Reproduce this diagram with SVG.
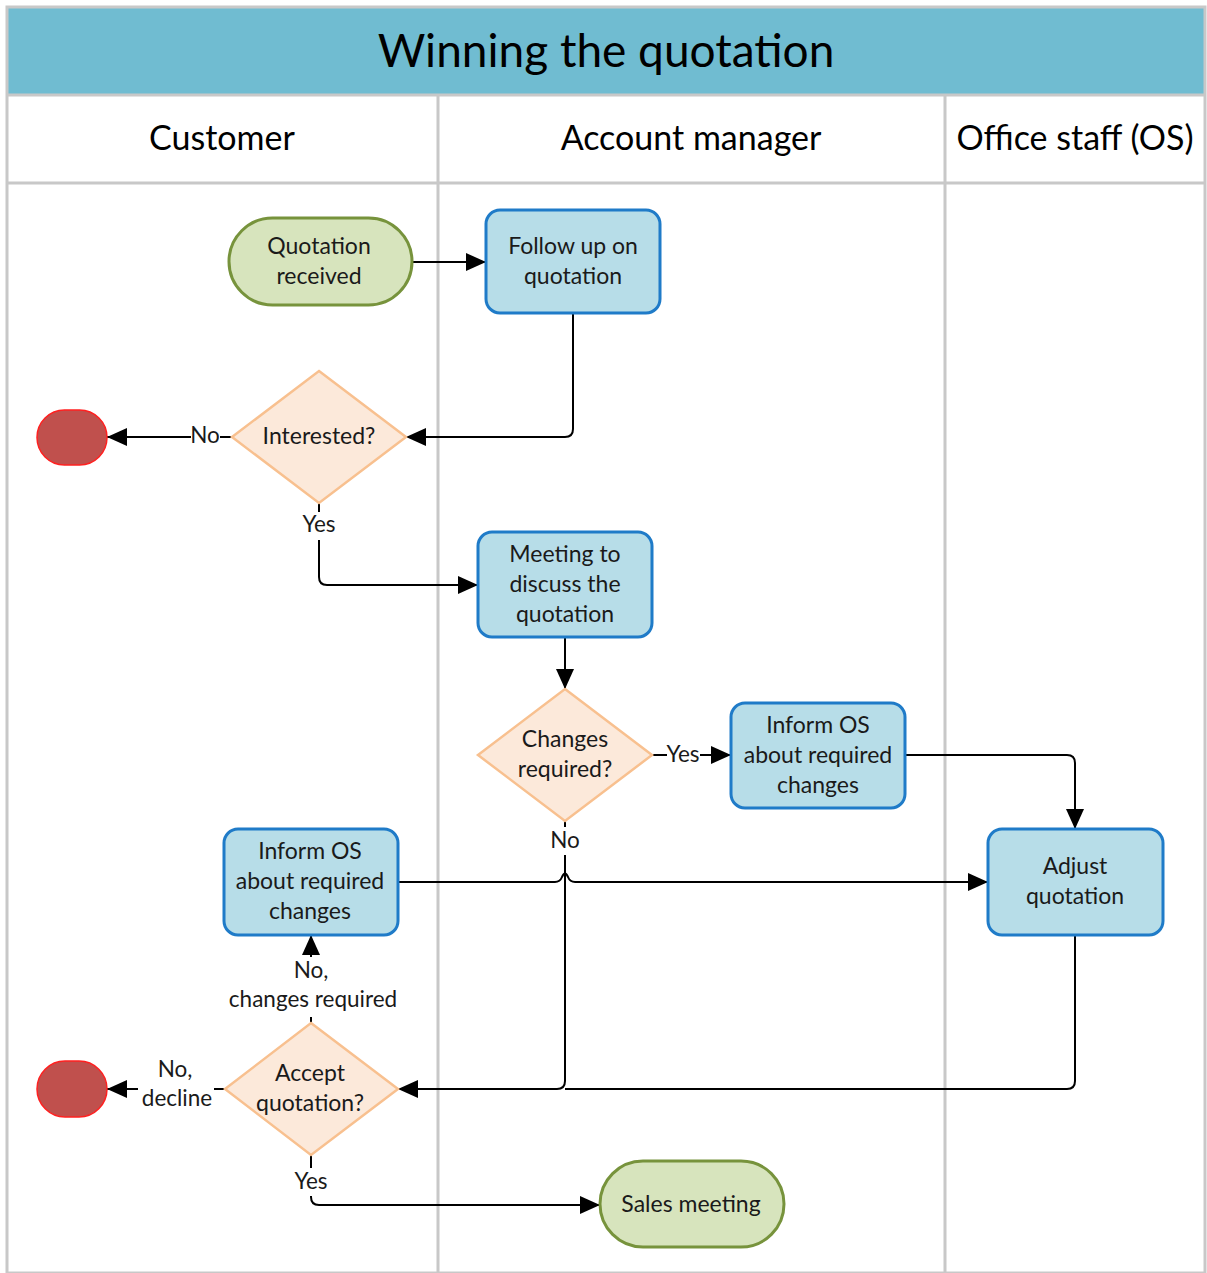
<svg xmlns="http://www.w3.org/2000/svg" width="1207" height="1273" viewBox="0 0 1207 1273">
  <style>
    text { font-family: Lato, "Open Sans", "Liberation Sans", sans-serif; fill: #1a1a1a; text-anchor: middle; }
    .title { font-size: 46px; fill: #000; }
    .lane { font-size: 34px; fill: #000; }
    .node { font-size: 23px; }
    .lbl { font-size: 22.5px; }
    .grid { stroke: #c8c8c8; stroke-width: 3; fill: none; }
    .term { fill: #D7E4BD; stroke: #77933C; stroke-width: 3; }
    .proc { fill: #B7DDE8; stroke: #1F7BC8; stroke-width: 3; }
    .dec { fill: #FCE9DA; stroke: #F8C08F; stroke-width: 2.5; }
    .end { fill: #C0504D; stroke: #FF2020; stroke-width: 1.5; }
    .wire { stroke: #000; stroke-width: 2; fill: none; }
  </style>
  <defs>
    <marker id="arrow" viewBox="0 0 20 18" refX="20" refY="9" markerWidth="20" markerHeight="18" markerUnits="userSpaceOnUse" orient="auto">
      <path d="M0,0 L20,9 L0,18 Z" fill="#000"/>
    </marker>
  </defs>

  <!-- swimlane frame -->
  <g id="frame">
    <rect x="7" y="7" width="1198" height="88" fill="#70BCD1"/>
    <rect x="7" y="7" width="1198" height="1266" class="grid"/>
    <line x1="7" y1="95" x2="1205" y2="95" class="grid"/>
    <line x1="7" y1="183" x2="1205" y2="183" class="grid"/>
    <line x1="438" y1="95" x2="438" y2="1273" class="grid"/>
    <line x1="945" y1="95" x2="945" y2="1273" class="grid"/>
    <text class="title" x="606" y="67">Winning the quotation</text>
    <text class="lane" x="222" y="150">Customer</text>
    <text class="lane" x="691" y="150">Account manager</text>
    <text class="lane" x="1075" y="150">Office staff (OS)</text>
  </g>

  <!-- connectors -->
  <g id="connectors">
    <path class="wire" d="M412,262 H486" marker-end="url(#arrow)"/>
    <path class="wire" d="M573,313 V429 Q573,437 565,437 H406" marker-end="url(#arrow)"/>
    <path class="wire" d="M232,437 H107" marker-end="url(#arrow)"/>
    <path class="wire" d="M319,503 V577 Q319,585 327,585 H478" marker-end="url(#arrow)"/>
    <path class="wire" d="M565,637 V689" marker-end="url(#arrow)"/>
    <path class="wire" d="M652,755 H731" marker-end="url(#arrow)"/>
    <path class="wire" d="M905,755 H1067 Q1075,755 1075,763 V829" marker-end="url(#arrow)"/>
    <path class="wire" d="M398,882 H555 Q560,882 562,877 Q565,870 568,877 Q570,882 575,882 H988" marker-end="url(#arrow)"/>
    <path class="wire" d="M565,821 V1081 Q565,1089 557,1089 H398" marker-end="url(#arrow)"/>
    <path class="wire" d="M1075,935 V1081 Q1075,1089 1067,1089 H565"/>
    <path class="wire" d="M311,1023 V935" marker-end="url(#arrow)"/>
    <path class="wire" d="M225,1089 H107" marker-end="url(#arrow)"/>
    <path class="wire" d="M311,1155 V1197 Q311,1205 319,1205 H600" marker-end="url(#arrow)"/>

    <!-- connector labels -->
    <rect x="191" y="424" width="29" height="24" fill="#fff"/>
    <text class="lbl" x="205" y="443">No</text>
    <rect x="298" y="512" width="42" height="28" fill="#fff"/>
    <text class="lbl" x="319" y="532">Yes</text>
    <rect x="667" y="742" width="33" height="26" fill="#fff"/>
    <text class="lbl" x="683" y="762">Yes</text>
    <rect x="547" y="827" width="36" height="28" fill="#fff"/>
    <text class="lbl" x="565" y="848">No</text>
    <rect x="226" y="957" width="176" height="60" fill="#fff"/>
    <text class="lbl" x="311" y="978">No,</text>
    <text class="lbl" x="313" y="1007">changes required</text>
    <rect x="138" y="1056" width="76" height="58" fill="#fff"/>
    <text class="lbl" x="175" y="1077">No,</text>
    <text class="lbl" x="177" y="1106">decline</text>
    <rect x="292" y="1168" width="40" height="28" fill="#fff"/>
    <text class="lbl" x="311" y="1189">Yes</text>
  </g>

  <!-- nodes -->
  <g id="quotation-received">
    <rect x="229" y="218" width="183" height="87" rx="43.5" class="term"/>
    <text class="node" x="319" y="254">Quotation</text>
    <text class="node" x="319" y="284">received</text>
  </g>
  <g id="follow-up">
    <rect x="486" y="210" width="174" height="103" rx="14" class="proc"/>
    <text class="node" x="573" y="254">Follow up on</text>
    <text class="node" x="573" y="284">quotation</text>
  </g>
  <g id="interested">
    <path d="M319,371 L406,437 L319,503 L232,437 Z" class="dec"/>
    <text class="node" x="319" y="444">Interested?</text>
  </g>
  <g id="end-not-interested">
    <rect x="37" y="410" width="70" height="55" rx="27.5" class="end"/>
  </g>
  <g id="meeting">
    <rect x="478" y="532" width="174" height="105" rx="14" class="proc"/>
    <text class="node" x="565" y="562">Meeting to</text>
    <text class="node" x="565" y="592">discuss the</text>
    <text class="node" x="565" y="622">quotation</text>
  </g>
  <g id="changes-required">
    <path d="M565,689 L652,755 L565,821 L478,755 Z" class="dec"/>
    <text class="node" x="565" y="747">Changes</text>
    <text class="node" x="565" y="777">required?</text>
  </g>
  <g id="inform-os-am">
    <rect x="731" y="703" width="174" height="105" rx="14" class="proc"/>
    <text class="node" x="818" y="733">Inform OS</text>
    <text class="node" x="818" y="763">about required</text>
    <text class="node" x="818" y="793">changes</text>
  </g>
  <g id="adjust-quotation">
    <rect x="988" y="829" width="175" height="106" rx="14" class="proc"/>
    <text class="node" x="1075" y="874">Adjust</text>
    <text class="node" x="1075" y="904">quotation</text>
  </g>
  <g id="inform-os-customer">
    <rect x="224" y="829" width="174" height="106" rx="14" class="proc"/>
    <text class="node" x="310" y="859">Inform OS</text>
    <text class="node" x="310" y="889">about required</text>
    <text class="node" x="310" y="919">changes</text>
  </g>
  <g id="accept-quotation">
    <path d="M311,1023 L398,1089 L311,1155 L225,1089 Z" class="dec"/>
    <text class="node" x="310" y="1081">Accept</text>
    <text class="node" x="310" y="1111">quotation?</text>
  </g>
  <g id="end-declined">
    <rect x="37" y="1061" width="70" height="56" rx="28" class="end"/>
  </g>
  <g id="sales-meeting">
    <rect x="600" y="1161" width="184" height="86" rx="43" class="term"/>
    <text class="node" x="691" y="1212">Sales meeting</text>
  </g>
</svg>
